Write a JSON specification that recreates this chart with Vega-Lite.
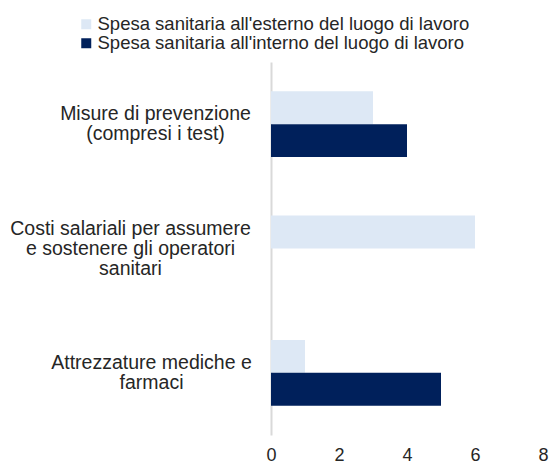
{
  "$schema": "https://vega.github.io/schema/vega-lite/v6.json",
  "width": 272,
  "height": 373,
  "autosize": {"type": "none"},
  "padding": {"left": 271, "top": 62, "right": 8, "bottom": 30},
  "background": "white",
  "config": {
    "view": {"stroke": null},
    "font": "Liberation Sans"
  },
  "data": {
    "values": [
      {"categoria": "Misure di prevenzione (compresi i test)", "serie": "Spesa sanitaria all'esterno del luogo di lavoro", "valore": 3},
      {"categoria": "Misure di prevenzione (compresi i test)", "serie": "Spesa sanitaria all'interno del luogo di lavoro", "valore": 4},
      {"categoria": "Costi salariali per assumere e sostenere gli operatori sanitari", "serie": "Spesa sanitaria all'esterno del luogo di lavoro", "valore": 6},
      {"categoria": "Costi salariali per assumere e sostenere gli operatori sanitari", "serie": "Spesa sanitaria all'interno del luogo di lavoro", "valore": 0},
      {"categoria": "Attrezzature mediche e farmaci", "serie": "Spesa sanitaria all'esterno del luogo di lavoro", "valore": 1},
      {"categoria": "Attrezzature mediche e farmaci", "serie": "Spesa sanitaria all'interno del luogo di lavoro", "valore": 5}
    ]
  },
  "mark": {"type": "bar"},
  "encoding": {
    "y": {
      "field": "categoria",
      "type": "nominal",
      "sort": null,
      "scale": {"paddingInner": 0.47, "paddingOuter": 0.235},
      "axis": {
        "title": null,
        "ticks": false,
        "tickSize": 0,
        "domainColor": "#d9d9d9",
        "domainWidth": 2,
        "labelAlign": "center",
        "labelBaseline": "middle",
        "labelPadding": {
          "condition": [
            {"test": "datum.value == 'Costi salariali per assumere e sostenere gli operatori sanitari'", "value": 141},
            {"test": "datum.value == 'Attrezzature mediche e farmaci'", "value": 120}
          ],
          "value": 116
        },
        "labelOffset": {
          "condition": [
            {"test": "datum.value == 'Costi salariali per assumere e sostenere gli operatori sanitari'", "value": -20}
          ],
          "value": -10
        },
        "labelFontSize": 19.5,
        "labelLineHeight": 20,
        "labelColor": "#262626",
        "labelLimit": 0,
        "labelExpr": "datum.value == 'Misure di prevenzione (compresi i test)' ? ['Misure di prevenzione', '(compresi i test)'] : datum.value == 'Attrezzature mediche e farmaci' ? ['Attrezzature mediche e', 'farmaci'] : ['Costi salariali per assumere', 'e sostenere gli operatori', 'sanitari']"
      }
    },
    "yOffset": {
      "field": "serie",
      "type": "nominal",
      "sort": ["Spesa sanitaria all'esterno del luogo di lavoro", "Spesa sanitaria all'interno del luogo di lavoro"],
      "scale": {"paddingInner": 0, "paddingOuter": 0}
    },
    "x": {
      "field": "valore",
      "type": "quantitative",
      "scale": {"domain": [0, 8]},
      "axis": {
        "title": null,
        "values": [0, 2, 4, 6, 8],
        "grid": false,
        "domain": false,
        "ticks": false,
        "tickSize": 0,
        "labelPadding": 11,
        "labelFontSize": 18,
        "labelColor": "#262626",
        "labelFlush": false
      }
    },
    "color": {
      "field": "serie",
      "type": "nominal",
      "sort": ["Spesa sanitaria all'esterno del luogo di lavoro", "Spesa sanitaria all'interno del luogo di lavoro"],
      "scale": {"range": ["#dde8f5", "#00205b"]},
      "legend": {
        "title": null,
        "orient": "none",
        "legendX": -194,
        "legendY": -47,
        "symbolType": "square",
        "symbolSize": 100,
        "symbolStrokeWidth": 0,
        "labelFontSize": 18.5,
        "labelColor": "#262626",
        "labelOffset": 2,
        "labelLimit": 0,
        "rowPadding": -3
      }
    }
  }
}
